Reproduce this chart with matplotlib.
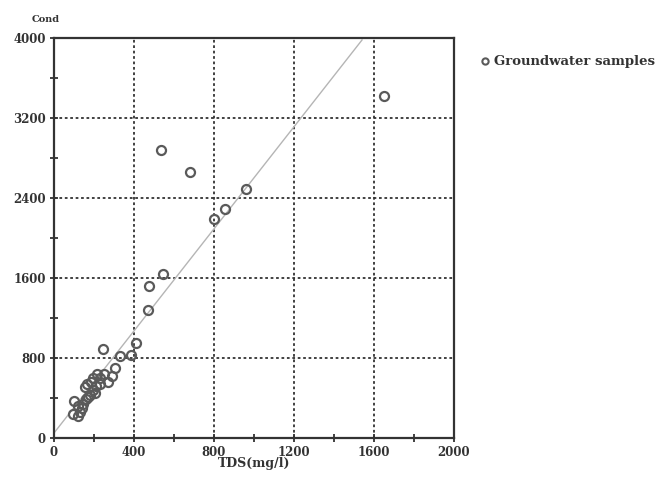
import matplotlib
matplotlib.use("Agg")
import matplotlib.pyplot as plt
from matplotlib.ticker import MultipleLocator

tds = [1650, 533, 680, 960, 855, 800, 543, 477, 470, 408, 385, 330, 245,
       305, 288, 270, 250, 230, 213, 197, 185, 165, 155, 230, 205, 195, 180,
       160, 147, 140, 120, 100, 95, 120, 130, 170, 210]
cond = [3420, 2880, 2665, 2495, 2290, 2190, 1640, 1520, 1285, 950, 830, 825, 895,
        700, 620, 560, 640, 600, 645, 600, 560, 540, 510, 540, 450, 480, 430,
        390, 340, 300, 320, 370, 240, 220, 260, 410, 520]
line_x = [0, 1540]
line_y = [50, 3980]

x_ticks = [0, 400, 800, 1200, 1600, 2000]
y_ticks = [0, 800, 1600, 2400, 3200, 4000]

fig = plt.figure(figsize=(6.7, 4.82), dpi=100)
ax = fig.add_axes([54/670, 1-438/482, 400/670, 400/482])

serif = ["DejaVu Serif"]

ax.plot(line_x, line_y, color="#b5b5b5", lw=1.0, zorder=2)
ax.plot(tds, cond, linestyle="none", marker="o", markersize=6.5,
        markerfacecolor="none", markeredgecolor="#5a5a5a", markeredgewidth=1.6,
        zorder=3, label="Groundwater samples")

ax.set_xlim(0, 2000)
ax.set_ylim(0, 4000)
ax.set_xticks(x_ticks)
ax.set_yticks(y_ticks)
ax.xaxis.set_minor_locator(MultipleLocator(200))
ax.yaxis.set_minor_locator(MultipleLocator(400))
ax.grid(True, which="major", linestyle=(0, (1.5, 1.5)), color="#333333", lw=1.3)
ax.set_axisbelow(True)
for s in ax.spines.values():
    s.set_linewidth(1.6)
    s.set_color("#333333")
ax.tick_params(which="both", direction="inout", length=6, width=1.3, colors="#333333")
ax.tick_params(which="major", top=False, right=False, pad=3)
for lab in ax.get_xticklabels() + ax.get_yticklabels():
    lab.set_fontfamily(serif)
    lab.set_fontweight("bold")
    lab.set_fontsize(8.5)
    lab.set_color("#333333")

ax.set_xlabel("TDS(mg/l)", fontfamily=serif, fontweight="bold", fontsize=9,
              labelpad=-2, color="#333333")
fig.text(32/670, 1-19/482, "Cond", fontfamily=serif, fontweight="bold", fontsize=7,
         va="center", ha="left", color="#333333")

leg = ax.legend(loc="upper left", bbox_to_anchor=(1.055, 0.97), frameon=False,
                prop={"family": serif, "weight": "bold", "size": 9.5},
                handlelength=0.6, handletextpad=0.4, borderaxespad=0)
for t in leg.get_texts():
    t.set_color("#333333")
for h in leg.legend_handles:
    h.set_markersize(4.5)
    h.set_markeredgewidth(1.5)

fig.savefig("out.png", dpi=100)
